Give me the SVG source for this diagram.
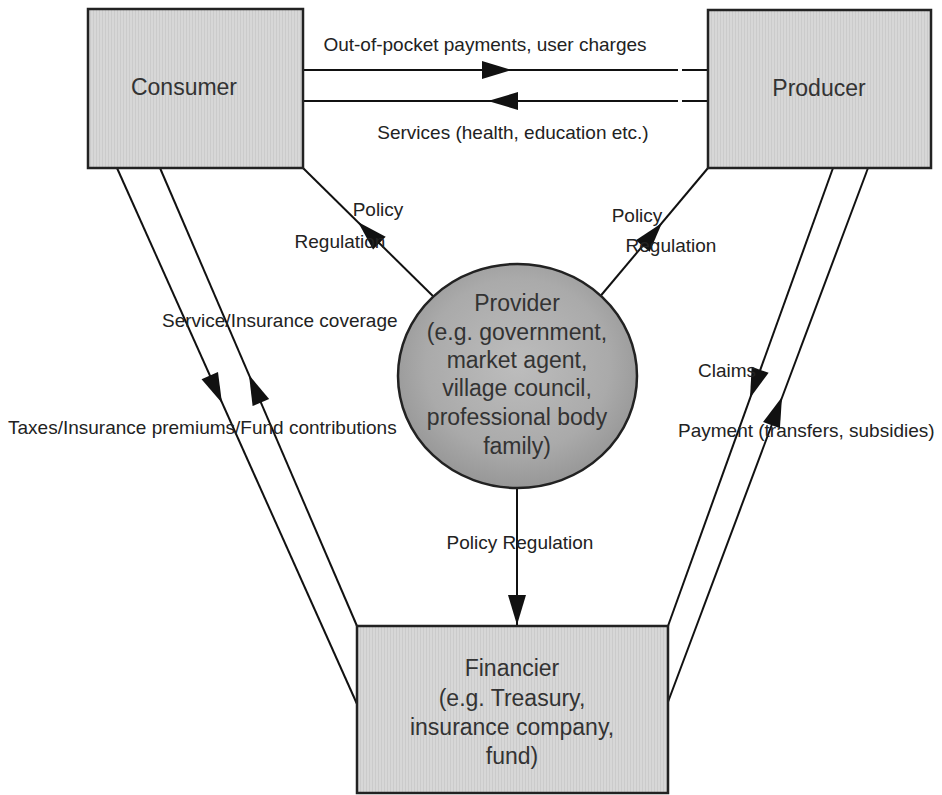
<svg xmlns="http://www.w3.org/2000/svg" width="942" height="795" viewBox="0 0 942 795">
<style>
.box{stroke:#222;stroke-width:2.5;fill:url(#tex)}
.ln{stroke:#111;stroke-width:2;fill:none}
.lbl{font-family:"Liberation Sans",Arial,sans-serif;font-size:19px;fill:#222}
.nt{font-family:"Liberation Sans",Arial,sans-serif;font-size:23px;fill:#333;text-anchor:middle}
.ah{fill:#111}
</style>
<defs>
<pattern id="tex" width="3" height="3" patternUnits="userSpaceOnUse">
<rect width="3" height="3" fill="#d7d7d7"/>
<rect width="1" height="3" fill="#cbcbcb"/>
</pattern>
<radialGradient id="cg" cx="0.5" cy="0.45" r="0.55">
<stop offset="0" stop-color="#bdbdbd"/>
<stop offset="0.7" stop-color="#aaaaaa"/>
<stop offset="1" stop-color="#979797"/>
</radialGradient>
<path id="ah" d="M0,0 L-30,-9 L-30,9 Z"/>
</defs>
<rect width="942" height="795" fill="#ffffff"/>
<g id="connectors">
<line class="ln" x1="303" y1="70" x2="678" y2="70"/>
<line class="ln" x1="682" y1="70" x2="708" y2="70"/>
<line class="ln" x1="303" y1="101" x2="678" y2="101"/>
<line class="ln" x1="682" y1="101" x2="708" y2="101"/>
<use href="#ah" class="ah" transform="translate(512,70)"/>
<use href="#ah" class="ah" transform="translate(488,101) rotate(180)"/>
<line class="ln" x1="117" y1="168" x2="357" y2="704"/>
<line class="ln" x1="160" y1="168" x2="357" y2="626"/>
<use href="#ah" class="ah" transform="translate(222,403) rotate(65.9)"/>
<use href="#ah" class="ah" transform="translate(249,375) rotate(-113.3)"/>
<line class="ln" x1="833" y1="168" x2="668" y2="626"/>
<line class="ln" x1="868" y1="168" x2="668" y2="702"/>
<use href="#ah" class="ah" transform="translate(750,398) rotate(109.8)"/>
<use href="#ah" class="ah" transform="translate(782,397) rotate(-69.5)"/>
<line class="ln" x1="303" y1="168" x2="440" y2="303"/>
<use href="#ah" class="ah" transform="translate(358,222) rotate(-135.4)"/>
<line class="ln" x1="708" y1="168" x2="598" y2="299"/>
<use href="#ah" class="ah" transform="translate(662,223) rotate(-50)"/>
<line class="ln" x1="517" y1="480" x2="517" y2="626"/>
<use href="#ah" class="ah" transform="translate(517,625) rotate(90)"/>
</g>
<g id="labels">
<text class="lbl" x="485" y="51" text-anchor="middle">Out-of-pocket payments, user charges</text>
<text class="lbl" x="513" y="139" text-anchor="middle">Services (health, education etc.)</text>
<text class="lbl" x="378" y="216" text-anchor="middle">Policy</text>
<text class="lbl" x="340" y="248" text-anchor="middle">Regulation</text>
<text class="lbl" x="637" y="222" text-anchor="middle">Policy</text>
<text class="lbl" x="671" y="252" text-anchor="middle">Regulation</text>
<text class="lbl" x="162" y="327">Service/Insurance coverage</text>
<text class="lbl" x="8" y="434">Taxes/Insurance premiums/Fund contributions</text>
<text class="lbl" x="698" y="377">Claims</text>
<text class="lbl" x="678" y="437">Payment (transfers, subsidies)</text>
<text class="lbl" x="520" y="549" text-anchor="middle">Policy Regulation</text>
</g>
<g id="consumer">
<rect class="box" x="88" y="9" width="215" height="159"/>
<text class="nt" x="184" y="95">Consumer</text>
</g>
<g id="producer">
<rect class="box" x="708" y="10" width="223" height="158"/>
<text class="nt" x="819" y="96">Producer</text>
</g>
<g id="provider">
<ellipse cx="517.5" cy="376" rx="119.5" ry="112" fill="url(#cg)" stroke="#222" stroke-width="2.5"/>
<text class="nt" x="517" y="311">Provider</text>
<text class="nt" x="517" y="340">(e.g. government,</text>
<text class="nt" x="517" y="368">market agent,</text>
<text class="nt" x="517" y="396">village council,</text>
<text class="nt" x="517" y="425">professional body</text>
<text class="nt" x="517" y="454">family)</text>
</g>
<g id="financier">
<rect class="box" x="357" y="626" width="311" height="167"/>
<text class="nt" x="512" y="676">Financier</text>
<text class="nt" x="512" y="706">(e.g. Treasury,</text>
<text class="nt" x="512" y="735">insurance company,</text>
<text class="nt" x="512" y="764">fund)</text>
</g>
</svg>
